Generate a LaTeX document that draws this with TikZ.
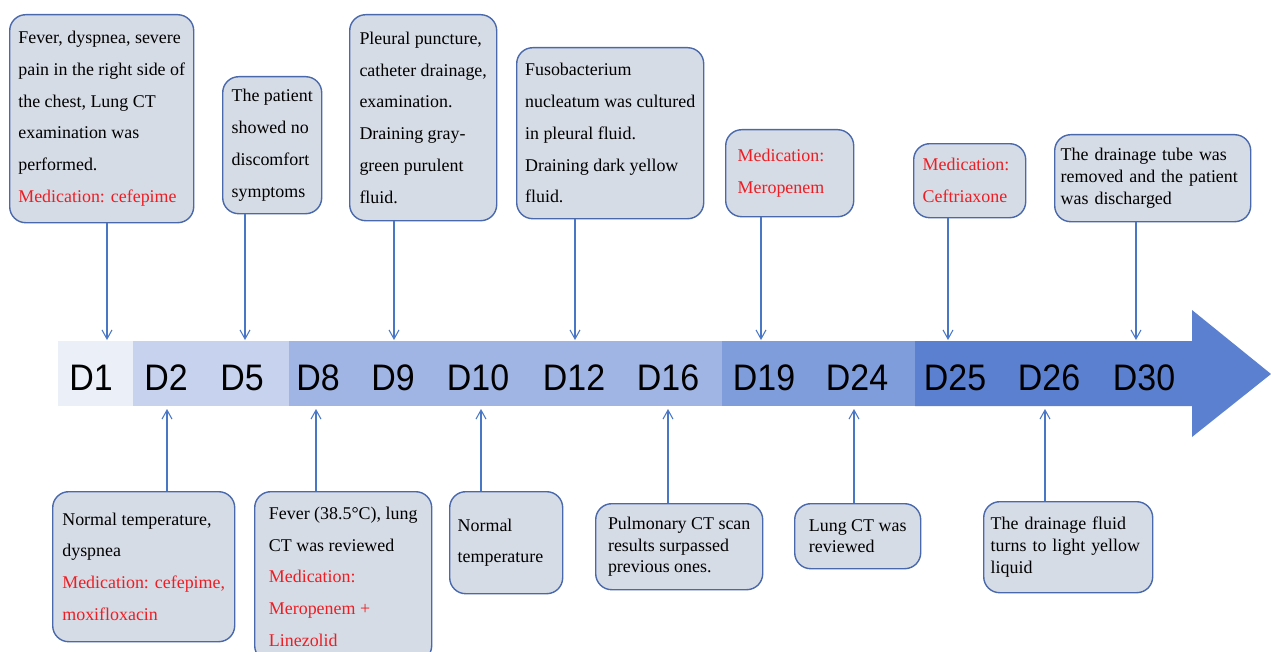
\documentclass[tikz,border=0pt]{standalone}
\usepackage{fontspec}
\setmainfont{Liberation Serif}
\newfontfamily\dayfont[FakeStretch=0.92]{Liberation Sans}
\usetikzlibrary{arrows.meta}

\definecolor{boxfill}{HTML}{D6DCE5}
\definecolor{boxline}{HTML}{4A69AD}
\definecolor{conncol}{HTML}{4A76C6}
\definecolor{medred}{HTML}{EE1D23}
\definecolor{segA}{HTML}{EAEFF8}
\definecolor{segB}{HTML}{C7D3EE}
\definecolor{segC}{HTML}{A0B5E3}
\definecolor{segD}{HTML}{7E9DDA}
\definecolor{segE}{HTML}{5A80CF}

\newcommand{\med}[1]{\textcolor{medred}{#1}}

\begin{document}
\begin{tikzpicture}[x=0.02cm, y=-0.02cm,
    box/.style 2 args={draw=boxline, line width=0.8pt, fill=boxfill, rounded corners=0.32cm,
        align=left, inner sep=0pt, anchor=north west,
        minimum width=#1*0.02cm, minimum height=#2*0.02cm,
        font=\fontsize{10.2}{18.1}\selectfont},
    tight/.style={font=\fontsize{10.2}{12.3}\selectfont},
    tw/.style={text width=#1*0.02cm},
    day/.style={anchor=base, font=\dayfont\fontsize{21}{21}\selectfont},
    conn/.style={draw=conncol, line width=0.6pt, -{Straight Barb[length=1.8mm,width=2mm]}}]
    \useasboundingbox (0,0) rectangle (1271,652);

    % timeline band
    \fill[segA] (58,341) rectangle (133,406);
    \fill[segB] (133,341) rectangle (289,406);
    \fill[segC] (289,341) rectangle (722,406);
    \fill[segD] (722,341) rectangle (915,406);
    \fill[segE] (915,341) -- (1192,341) -- (1192,310) -- (1271,374)
        -- (1192,437) -- (1192,406) -- (915,406) -- cycle;

    \foreach \x/\d in {91/D1, 166/D2, 242/D5, 318/D8, 393/D9, 478/D10, 574/D12,
        668/D16, 764/D19, 857/D24, 955/D25, 1049/D26, 1144/D30}
        \node[day] (\d) at (\x,390) {\d};

    % upper events
    \node[box={184}{208}] (b1) at (9,14) {Fever, dyspnea, severe\\pain in the right side of\\the chest, Lung CT\\examination was\\performed.\\\med{Medication: cefepime}};
    \node[box={99}{137}] (b5) at (222,76) {The patient\\showed no\\discomfort\\symptoms};
    \node[box={147}{206}] (b9) at (349,14) {Pleural puncture,\\catheter drainage,\\examination.\\Draining gray-\\green purulent\\fluid.};
    \node[box={187}{171}] (b12) at (516,47) {Fusobacterium\\nucleatum was cultured\\in pleural fluid.\\Draining dark yellow\\fluid.};
    \node[box={128}{87}, tw=104] (b19) at (725,129) {\med{Medication:}\\\med{Meropenem}};
    \node[box={112}{74}, tw=94] (b25) at (913,143) {\med{Medication:}\\\med{Ceftriaxone}};
    \node[box={196}{87}, tight, tw=184] (b30) at (1054,134) {The drainage tube was\\removed and the patient\\was discharged};

    % lower events
    \node[box={182}{150}] (b2) at (52,491) {Normal temperature,\\dyspnea\\\med{Medication: cefepime,}\\\med{moxifloxacin}};
    \node[box={177}{170}] (b8) at (254,491) {Fever (38.5°C), lung\\CT was reviewed\\\med{Medication:}\\\med{Meropenem +}\\\med{Linezolid}};
    \node[box={113}{102}, tw=97] (b10) at (449,491) {Normal\\temperature};
    \node[box={167}{86}, tight] (b16) at (595,503) {Pulmonary CT scan\\results surpassed\\previous ones.};
    \node[box={126}{65}, tight] (b24) at (794,503) {Lung CT was\\reviewed};
    \node[box={169}{91}, tight, tw=155] (b26) at (983,501) {The drainage fluid\\turns to light yellow\\liquid};

    % arrow ends on the band
    \coordinate (t1) at (107,340);
    \coordinate (t5) at (245,340);
    \coordinate (t9) at (394,340);
    \coordinate (t12) at (575,340);
    \coordinate (t19) at (761,340);
    \coordinate (t25) at (948,340);
    \coordinate (t30) at (1136,340);
    \coordinate (u2) at (167,409);
    \coordinate (u8) at (316,409);
    \coordinate (u10) at (481,409);
    \coordinate (u16) at (668,409);
    \coordinate (u24) at (854,409);
    \coordinate (u26) at (1045,409);

    \draw[conn] (b1.south -| t1) -- (t1);
    \draw[conn] (b5.south -| t5) -- (t5);
    \draw[conn] (b9.south -| t9) -- (t9);
    \draw[conn] (b12.south -| t12) -- (t12);
    \draw[conn] (b19.south -| t19) -- (t19);
    \draw[conn] (b25.south -| t25) -- (t25);
    \draw[conn] (b30.south -| t30) -- (t30);

    \draw[conn] (b2.north -| u2) -- (u2);
    \draw[conn] (b8.north -| u8) -- (u8);
    \draw[conn] (b10.north -| u10) -- (u10);
    \draw[conn] (b16.north -| u16) -- (u16);
    \draw[conn] (b24.north -| u24) -- (u24);
    \draw[conn] (b26.north -| u26) -- (u26);
\end{tikzpicture}
\end{document}
